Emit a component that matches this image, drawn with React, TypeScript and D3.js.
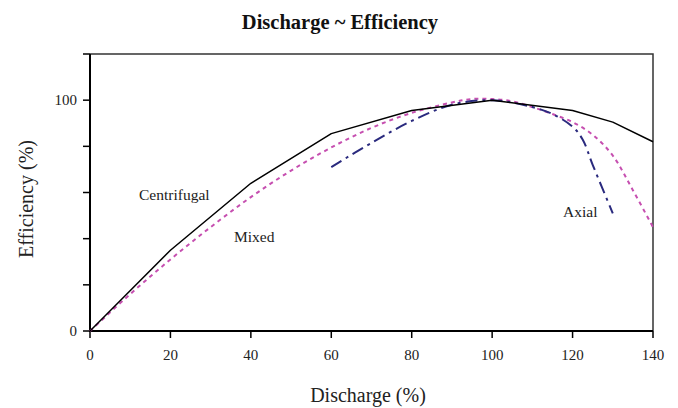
import { useEffect, useRef } from "react";
import * as d3 from "d3";

const W = 678;
const H = 408;

// discharge (%) vs efficiency (%)
const centrifugalX = [0, 20, 40, 60, 80, 100, 120, 130, 140];
const centrifugalY = [0, 35, 64, 85.5, 95.5, 100, 95.5, 90.5, 82];

const mixedX = [0, 10, 20, 30, 40, 50, 60, 70, 80, 90, 95, 100, 105, 110, 115, 120, 125, 130, 135, 140];
const mixedY = [0, 16, 31, 45, 58, 69.5, 79.5, 88, 94.5, 99, 100.5, 100.5, 99.5, 97, 94, 90.5, 85, 76, 61, 45];

const axialX = [60, 70, 80, 90, 100, 110, 115, 120, 122.5, 125, 130];
const axialY = [71, 81.5, 91, 98, 100, 97, 94, 88.5, 83, 72, 51];

const xTicks = [0, 20, 40, 60, 80, 100, 120, 140];
const yTicks = [0, 20, 40, 60, 80, 100, 120];
const yLabels = [0, 100];

const serif = "'Liberation Serif', 'Times New Roman', serif";

type Pt = [number, number];
const zip = (xs: number[], ys: number[]): Pt[] => xs.map((x, i) => [x, ys[i]]);

export default function App() {
  const ref = useRef<SVGSVGElement | null>(null);

  useEffect(() => {
    const svg = d3.select(ref.current);
    svg.selectAll("*").remove();

    const m = { t: 54, r: 25, b: 77, l: 90 };
    const x = d3.scaleLinear().domain([0, 140]).range([m.l, W - m.r]);
    const y = d3.scaleLinear().domain([0, 120]).range([H - m.b, m.t]);

    svg.append("rect").attr("width", W).attr("height", H).attr("fill", "#fff");

    // title
    svg
      .append("text")
      .attr("x", 340)
      .attr("y", 29)
      .attr("text-anchor", "middle")
      .attr("font-family", serif)
      .attr("font-weight", "bold")
      .attr("font-size", 20.5)
      .attr("fill", "#111")
      .text("Discharge ~ Efficiency");

    // frame
    svg
      .append("path")
      .attr("d", `M${x(0)},${y(120)}H${x(140)}V${y(0)}`)
      .attr("fill", "none")
      .attr("stroke", "#333")
      .attr("stroke-width", 1.5);
    svg
      .append("path")
      .attr("d", `M${x(0)},${y(120)}V${y(0)}H${x(140)}`)
      .attr("fill", "none")
      .attr("stroke", "#000")
      .attr("stroke-width", 2);

    // ticks
    yTicks.forEach((t) => {
      svg
        .append("line")
        .attr("x1", x(0) - 7)
        .attr("x2", x(0))
        .attr("y1", y(t))
        .attr("y2", y(t))
        .attr("stroke", "#000")
        .attr("stroke-width", 1.5);
    });
    xTicks.forEach((t) => {
      svg
        .append("line")
        .attr("x1", x(t))
        .attr("x2", x(t))
        .attr("y1", y(0))
        .attr("y2", y(0) + 7)
        .attr("stroke", "#000")
        .attr("stroke-width", 1.5);
      svg
        .append("text")
        .attr("x", x(t))
        .attr("y", y(0) + 29)
        .attr("text-anchor", "middle")
        .attr("font-family", serif)
        .attr("font-size", 15)
        .attr("fill", "#222")
        .text(t);
    });
    yLabels.forEach((t) => {
      svg
        .append("text")
        .attr("x", x(0) - 13)
        .attr("y", y(t) + 5)
        .attr("text-anchor", "end")
        .attr("font-family", serif)
        .attr("font-size", 15)
        .attr("fill", "#222")
        .text(t);
    });

    // axis titles
    svg
      .append("text")
      .attr("x", 368)
      .attr("y", 402)
      .attr("text-anchor", "middle")
      .attr("font-family", serif)
      .attr("font-size", 20)
      .attr("fill", "#222")
      .text("Discharge (%)");
    svg
      .append("text")
      .attr("transform", `translate(33,199) rotate(-90)`)
      .attr("text-anchor", "middle")
      .attr("font-family", serif)
      .attr("font-size", 20)
      .attr("fill", "#222")
      .text("Efficiency (%)");

    const straight = d3
      .line<Pt>()
      .x((d) => x(d[0]))
      .y((d) => y(d[1]));
    const smooth = d3
      .line<Pt>()
      .x((d) => x(d[0]))
      .y((d) => y(d[1]))
      .curve(d3.curveCatmullRom.alpha(0.5));

    svg
      .append("path")
      .attr("d", smooth(zip(mixedX, mixedY)) ?? "")
      .attr("fill", "none")
      .attr("stroke", "#c64fb0")
      .attr("stroke-width", 2)
      .attr("stroke-dasharray", "4 4");

    svg
      .append("path")
      .attr("d", smooth(zip(axialX, axialY)) ?? "")
      .attr("fill", "none")
      .attr("stroke", "#2a2a7e")
      .attr("stroke-width", 2)
      .attr("stroke-dasharray", "12 5 3 5");

    svg
      .append("path")
      .attr("d", straight(zip(centrifugalX, centrifugalY)) ?? "")
      .attr("fill", "none")
      .attr("stroke", "#000")
      .attr("stroke-width", 1.5)
      .attr("stroke-linejoin", "round");

    // series labels
    const labels: [string, number, number][] = [
      ["Centrifugal", 139, 200],
      ["Mixed", 234, 242],
      ["Axial", 563, 217],
    ];
    labels.forEach(([txt, lx, ly]) => {
      svg
        .append("text")
        .attr("x", lx)
        .attr("y", ly)
        .attr("font-family", serif)
        .attr("font-size", 15.5)
        .attr("fill", "#222")
        .text(txt);
    });
  }, []);

  return (
    <svg
      ref={ref}
      width={W}
      height={H}
      style={{ position: "absolute", left: 0, top: 0, display: "block" }}
    />
  );
}
